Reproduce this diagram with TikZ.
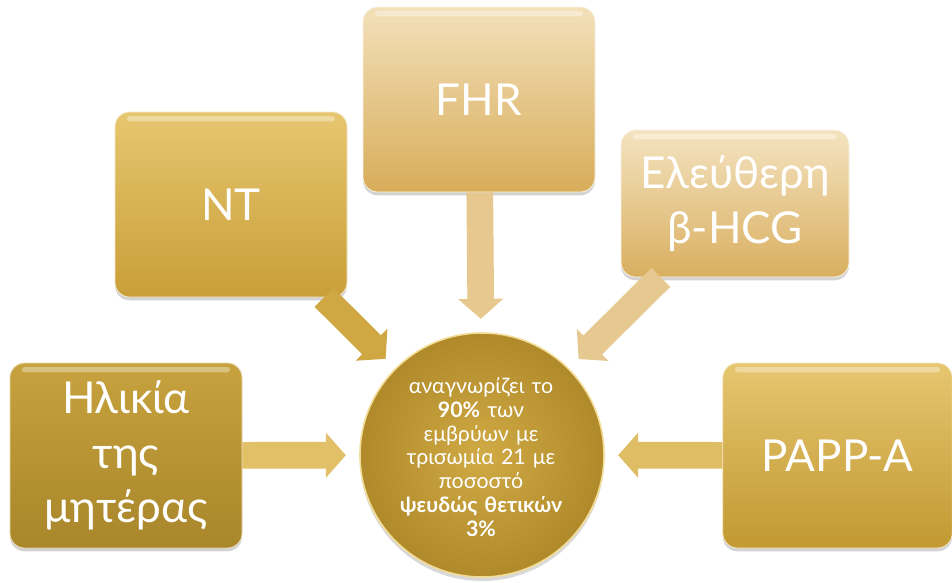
\documentclass[tikz,border=0pt]{standalone}
\usepackage{fontspec}
\setmainfont{Lato}
\usetikzlibrary{arrows.meta,shadows,calc}
\definecolor{ageT}{HTML}{C7A23E}
\definecolor{ageB}{HTML}{A8862A}
\definecolor{ntT}{HTML}{E6C670}
\definecolor{ntB}{HTML}{C99F38}
\definecolor{fhrT}{HTML}{F3E0BA}
\definecolor{fhrB}{HTML}{D8AD5A}
\definecolor{betaT}{HTML}{F4E3C0}
\definecolor{betaB}{HTML}{D9AF60}
\definecolor{papT}{HTML}{E6C670}
\definecolor{papB}{HTML}{C29932}
\definecolor{circIn}{HTML}{D0AA44}
\definecolor{circOut}{HTML}{B08A2A}
\definecolor{rim}{HTML}{F2DC96}
\tikzset{
  gbox/.style={rectangle, rounded corners=11pt, inner sep=0pt, align=center,
    text=white, font=\fontsize{33}{41}\selectfont,
    drop shadow={opacity=0.35, shadow xshift=0pt, shadow yshift=-2.5pt},
    draw=white!60!#1, line width=0.6pt,
    path picture={\fill[white, opacity=0.35, rounded corners=2pt]
      ($(path picture bounding box.north west)+(9pt,-3pt)$) rectangle
      ($(path picture bounding box.north east)+(-9pt,-7pt)$);}},
  blockarrow/.style={line width=20pt, -{Triangle[length=15pt, width=33pt]},
    shorten >=10pt, draw=#1},
}
\begin{document}
\begin{tikzpicture}[x=0.75pt,y=-0.75pt]
\useasboundingbox (0,0) rectangle (952,582);
% boxes
\node[gbox=ageT, top color=ageT, bottom color=ageB, minimum width=174pt, minimum height=138.75pt]
  (age) at (126,455.5) {Ηλικία\\της\\μητέρας};
\node[gbox=ntT, top color=ntT, bottom color=ntB, minimum width=174pt, minimum height=138.75pt]
  (nt) at (231,204.5) {NT};
\node[gbox=fhrT, top color=fhrT, bottom color=fhrB, minimum width=174pt, minimum height=138.75pt]
  (fhr) at (479,99.5) {FHR};
\node[gbox=betaT, top color=betaT, bottom color=betaB, minimum width=171pt, minimum height=110.25pt]
  (beta) at (735,203.5) {Ελεύθερη\\β-HCG};
\node[gbox=papT, top color=papT, bottom color=papB, minimum width=172pt, minimum height=138.75pt]
  (papp) at (837.5,455.5) {PAPP-A};
% centre circle
\node[circle, minimum size=183pt, inner sep=0pt, inner color=circIn, outer color=circOut,
  draw=rim, line width=1.2pt,
  drop shadow={opacity=0.3, shadow xshift=0pt, shadow yshift=-3pt}]
  (circ) at (482,455) {};
\node[align=center, text=white, font=\fontsize{16}{17.8}\selectfont, text width=150pt]
  (txt) at (481,457) {αναγνωρίζει το\\\textbf{90\%} των\\εμβρύων με\\τρισωμία 21 με\\ποσοστό\\\textbf{ψευδώς θετικών}\\\textbf{3\%}};
% arrows
\draw[blockarrow=ntB!80!ntT] (nt) -- (circ);
\draw[blockarrow=fhrB!45!fhrT] (fhr) -- (circ);
\draw[blockarrow=betaB!50!betaT] (beta) -- (circ);
\draw[blockarrow=ntT!85!ntB] (age) -- (circ);
\draw[blockarrow=papT!80!papB] (papp) -- (circ);
\end{tikzpicture}
\end{document}
